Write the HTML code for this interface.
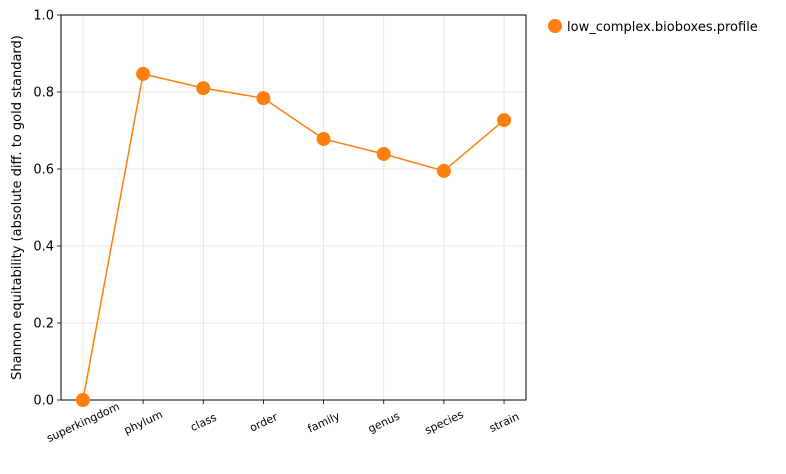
<!DOCTYPE html>
<html><head><meta charset="utf-8"><style>
body{margin:0;background:#fff;font-family:"Liberation Sans","DejaVu Sans",sans-serif;}
svg text{font-family:"DejaVu Sans","Liberation Sans",sans-serif;}
</style></head><body>
<svg id="chart" width="786" height="469" xmlns="http://www.w3.org/2000/svg"></svg>
<script>
const categories=["superkingdom","phylum","class","order","family","genus","species","strain"];
const values=[0.0,0.847,0.810,0.784,0.678,0.639,0.595,0.727];
const yTicks=[0.0,0.2,0.4,0.6,0.8,1.0];
const tickLabels=["0.0","0.2","0.4","0.6","0.8","1.0"];
const seriesName="low_complex.bioboxes.profile";
const L=61,R=526,T=15,B=400;
const NS="http://www.w3.org/2000/svg";
const svg=document.getElementById('chart');
function x(i){return L+(i+0.365)*((R-L)/(categories.length-1+0.73));}
function y(v){return B-(v-0)/(1-0)*(B-T);}
function mk(t,a,p){const e=document.createElementNS(NS,t);for(const k in a)e.setAttribute(k,a[k]);(p||svg).appendChild(e);return e;}
categories.forEach((c,i)=>{const g=mk('line',{x1:x(i),x2:x(i),y1:T,y2:B,stroke:'#e0e0e0','stroke-width':0.8});

});
yTicks.forEach((v,i)=>{const g=mk('line',{x1:L,x2:R,y1:y(v),y2:y(v),stroke:'#e0e0e0','stroke-width':0.8});


const tk=mk('line',{x1:L-4,x2:L,y1:y(v),y2:y(v),stroke:'#000','stroke-width':0.8});


const t=mk('text',{x:L-7,y:y(v)+4.5,'text-anchor':'end','font-size':13,fill:'#000'});t.textContent=tickLabels[i];

});
categories.forEach((c,i)=>{const tk=mk('line',{x1:x(i),x2:x(i),y1:B,y2:B+4,stroke:'#000','stroke-width':0.8});


const cx=x(i),cy=B+22;
const t=mk('text',{x:cx,y:cy+4,'text-anchor':'middle','font-size':11,transform:`rotate(-25 ${cx} ${cy})`});t.textContent=c;

});
const fr=mk('rect',{x:L,y:T,width:R-L,height:B-T,fill:'none',stroke:'#000','stroke-width':1});


const yl=mk('text',{x:21,y:(T+B)/2,'text-anchor':'middle','font-size':13,transform:`rotate(-90 21 ${(T+B)/2})`});
yl.textContent="Shannon equitability (absolute diff. to gold standard)";


const ln=mk('polyline',{points:values.map((v,i)=>x(i)+','+y(v)).join(' '),fill:'none',stroke:'#ff7f0e','stroke-width':1.5});


values.forEach((v,i)=>{const c=mk('circle',{cx:x(i),cy:y(v),r:7,fill:'#ff7f0e'});

});
const lc=mk('circle',{cx:555,cy:26,r:7,fill:'#ff7f0e'});


const lt=mk('text',{x:567,y:31,'font-size':13});lt.textContent=seriesName;


</script>
</body></html>
